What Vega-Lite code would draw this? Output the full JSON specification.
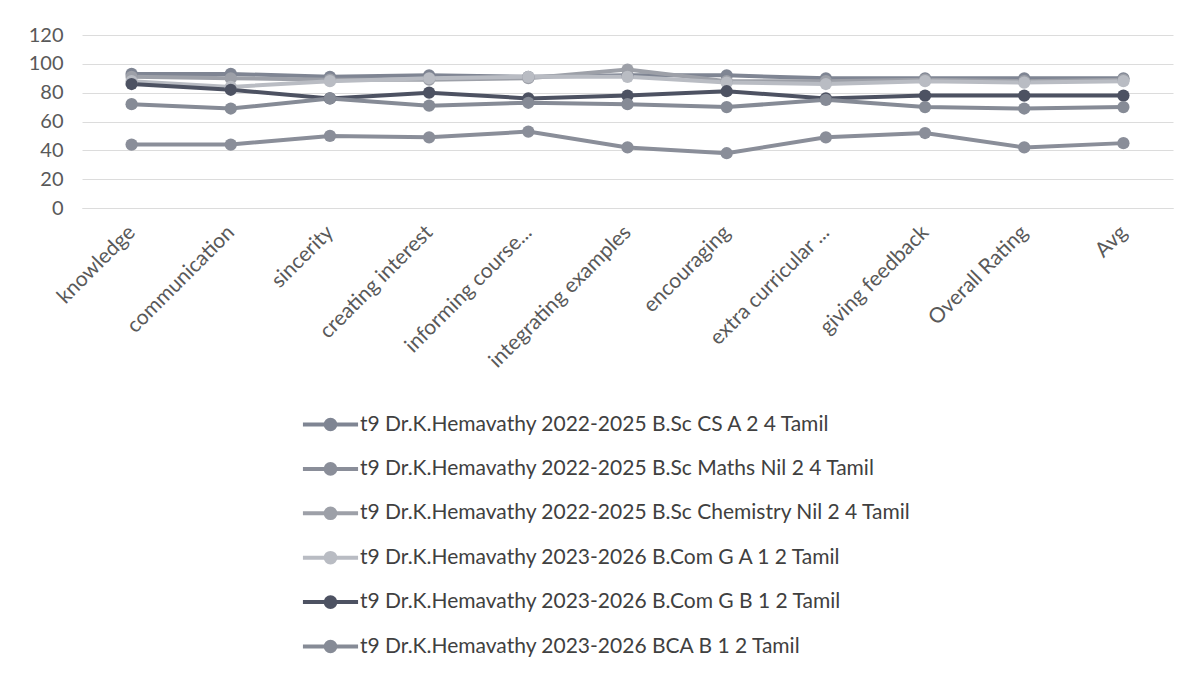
{
  "$schema": "https://vega.github.io/schema/vega-lite/v6.json",
  "autosize": {"type": "none"},
  "padding": {"left": 82, "top": 35, "right": 28, "bottom": 477},
  "width": 1091,
  "height": 173,
  "background": "white",
  "config": {
    "font": "Lato",
    "view": {"stroke": null},
    "axis": {"labelFont": "Lato", "labelColor": "#595959", "grid": true, "gridColor": "#dcdcdc", "gridWidth": 1, "domain": false, "ticks": false, "title": null}
  },
  "data": {"values": [
    {"series": "t9 Dr.K.Hemavathy 2022-2025 B.Sc CS A 2 4 Tamil", "category": "knowledge", "value": 93},
    {"series": "t9 Dr.K.Hemavathy 2022-2025 B.Sc CS A 2 4 Tamil", "category": "communication", "value": 93},
    {"series": "t9 Dr.K.Hemavathy 2022-2025 B.Sc CS A 2 4 Tamil", "category": "sincerity", "value": 91},
    {"series": "t9 Dr.K.Hemavathy 2022-2025 B.Sc CS A 2 4 Tamil", "category": "creating interest", "value": 92},
    {"series": "t9 Dr.K.Hemavathy 2022-2025 B.Sc CS A 2 4 Tamil", "category": "informing course...", "value": 91},
    {"series": "t9 Dr.K.Hemavathy 2022-2025 B.Sc CS A 2 4 Tamil", "category": "integrating examples", "value": 92},
    {"series": "t9 Dr.K.Hemavathy 2022-2025 B.Sc CS A 2 4 Tamil", "category": "encouraging", "value": 92},
    {"series": "t9 Dr.K.Hemavathy 2022-2025 B.Sc CS A 2 4 Tamil", "category": "extra curricular ...", "value": 90},
    {"series": "t9 Dr.K.Hemavathy 2022-2025 B.Sc CS A 2 4 Tamil", "category": "giving feedback", "value": 90},
    {"series": "t9 Dr.K.Hemavathy 2022-2025 B.Sc CS A 2 4 Tamil", "category": "Overall Rating", "value": 90},
    {"series": "t9 Dr.K.Hemavathy 2022-2025 B.Sc CS A 2 4 Tamil", "category": "Avg", "value": 90},

    {"series": "t9 Dr.K.Hemavathy 2022-2025 B.Sc Maths Nil 2 4 Tamil", "category": "knowledge", "value": 44},
    {"series": "t9 Dr.K.Hemavathy 2022-2025 B.Sc Maths Nil 2 4 Tamil", "category": "communication", "value": 44},
    {"series": "t9 Dr.K.Hemavathy 2022-2025 B.Sc Maths Nil 2 4 Tamil", "category": "sincerity", "value": 50},
    {"series": "t9 Dr.K.Hemavathy 2022-2025 B.Sc Maths Nil 2 4 Tamil", "category": "creating interest", "value": 49},
    {"series": "t9 Dr.K.Hemavathy 2022-2025 B.Sc Maths Nil 2 4 Tamil", "category": "informing course...", "value": 53},
    {"series": "t9 Dr.K.Hemavathy 2022-2025 B.Sc Maths Nil 2 4 Tamil", "category": "integrating examples", "value": 42},
    {"series": "t9 Dr.K.Hemavathy 2022-2025 B.Sc Maths Nil 2 4 Tamil", "category": "encouraging", "value": 38},
    {"series": "t9 Dr.K.Hemavathy 2022-2025 B.Sc Maths Nil 2 4 Tamil", "category": "extra curricular ...", "value": 49},
    {"series": "t9 Dr.K.Hemavathy 2022-2025 B.Sc Maths Nil 2 4 Tamil", "category": "giving feedback", "value": 52},
    {"series": "t9 Dr.K.Hemavathy 2022-2025 B.Sc Maths Nil 2 4 Tamil", "category": "Overall Rating", "value": 42},
    {"series": "t9 Dr.K.Hemavathy 2022-2025 B.Sc Maths Nil 2 4 Tamil", "category": "Avg", "value": 45},

    {"series": "t9 Dr.K.Hemavathy 2022-2025 B.Sc Chemistry Nil 2 4 Tamil", "category": "knowledge", "value": 91},
    {"series": "t9 Dr.K.Hemavathy 2022-2025 B.Sc Chemistry Nil 2 4 Tamil", "category": "communication", "value": 90},
    {"series": "t9 Dr.K.Hemavathy 2022-2025 B.Sc Chemistry Nil 2 4 Tamil", "category": "sincerity", "value": 89},
    {"series": "t9 Dr.K.Hemavathy 2022-2025 B.Sc Chemistry Nil 2 4 Tamil", "category": "creating interest", "value": 89},
    {"series": "t9 Dr.K.Hemavathy 2022-2025 B.Sc Chemistry Nil 2 4 Tamil", "category": "informing course...", "value": 90},
    {"series": "t9 Dr.K.Hemavathy 2022-2025 B.Sc Chemistry Nil 2 4 Tamil", "category": "integrating examples", "value": 96},
    {"series": "t9 Dr.K.Hemavathy 2022-2025 B.Sc Chemistry Nil 2 4 Tamil", "category": "encouraging", "value": 88},
    {"series": "t9 Dr.K.Hemavathy 2022-2025 B.Sc Chemistry Nil 2 4 Tamil", "category": "extra curricular ...", "value": 88},
    {"series": "t9 Dr.K.Hemavathy 2022-2025 B.Sc Chemistry Nil 2 4 Tamil", "category": "giving feedback", "value": 89},
    {"series": "t9 Dr.K.Hemavathy 2022-2025 B.Sc Chemistry Nil 2 4 Tamil", "category": "Overall Rating", "value": 88},
    {"series": "t9 Dr.K.Hemavathy 2022-2025 B.Sc Chemistry Nil 2 4 Tamil", "category": "Avg", "value": 89},

    {"series": "t9 Dr.K.Hemavathy 2023-2026 B.Com G A 1 2 Tamil", "category": "knowledge", "value": 88},
    {"series": "t9 Dr.K.Hemavathy 2023-2026 B.Com G A 1 2 Tamil", "category": "communication", "value": 84},
    {"series": "t9 Dr.K.Hemavathy 2023-2026 B.Com G A 1 2 Tamil", "category": "sincerity", "value": 88},
    {"series": "t9 Dr.K.Hemavathy 2023-2026 B.Com G A 1 2 Tamil", "category": "creating interest", "value": 90},
    {"series": "t9 Dr.K.Hemavathy 2023-2026 B.Com G A 1 2 Tamil", "category": "informing course...", "value": 91},
    {"series": "t9 Dr.K.Hemavathy 2023-2026 B.Com G A 1 2 Tamil", "category": "integrating examples", "value": 91},
    {"series": "t9 Dr.K.Hemavathy 2023-2026 B.Com G A 1 2 Tamil", "category": "encouraging", "value": 87},
    {"series": "t9 Dr.K.Hemavathy 2023-2026 B.Com G A 1 2 Tamil", "category": "extra curricular ...", "value": 86},
    {"series": "t9 Dr.K.Hemavathy 2023-2026 B.Com G A 1 2 Tamil", "category": "giving feedback", "value": 88},
    {"series": "t9 Dr.K.Hemavathy 2023-2026 B.Com G A 1 2 Tamil", "category": "Overall Rating", "value": 87},
    {"series": "t9 Dr.K.Hemavathy 2023-2026 B.Com G A 1 2 Tamil", "category": "Avg", "value": 88},

    {"series": "t9 Dr.K.Hemavathy 2023-2026 B.Com G B 1 2 Tamil", "category": "knowledge", "value": 86},
    {"series": "t9 Dr.K.Hemavathy 2023-2026 B.Com G B 1 2 Tamil", "category": "communication", "value": 82},
    {"series": "t9 Dr.K.Hemavathy 2023-2026 B.Com G B 1 2 Tamil", "category": "sincerity", "value": 76},
    {"series": "t9 Dr.K.Hemavathy 2023-2026 B.Com G B 1 2 Tamil", "category": "creating interest", "value": 80},
    {"series": "t9 Dr.K.Hemavathy 2023-2026 B.Com G B 1 2 Tamil", "category": "informing course...", "value": 76},
    {"series": "t9 Dr.K.Hemavathy 2023-2026 B.Com G B 1 2 Tamil", "category": "integrating examples", "value": 78},
    {"series": "t9 Dr.K.Hemavathy 2023-2026 B.Com G B 1 2 Tamil", "category": "encouraging", "value": 81},
    {"series": "t9 Dr.K.Hemavathy 2023-2026 B.Com G B 1 2 Tamil", "category": "extra curricular ...", "value": 76},
    {"series": "t9 Dr.K.Hemavathy 2023-2026 B.Com G B 1 2 Tamil", "category": "giving feedback", "value": 78},
    {"series": "t9 Dr.K.Hemavathy 2023-2026 B.Com G B 1 2 Tamil", "category": "Overall Rating", "value": 78},
    {"series": "t9 Dr.K.Hemavathy 2023-2026 B.Com G B 1 2 Tamil", "category": "Avg", "value": 78},

    {"series": "t9 Dr.K.Hemavathy 2023-2026 BCA B 1 2 Tamil", "category": "knowledge", "value": 72},
    {"series": "t9 Dr.K.Hemavathy 2023-2026 BCA B 1 2 Tamil", "category": "communication", "value": 69},
    {"series": "t9 Dr.K.Hemavathy 2023-2026 BCA B 1 2 Tamil", "category": "sincerity", "value": 76},
    {"series": "t9 Dr.K.Hemavathy 2023-2026 BCA B 1 2 Tamil", "category": "creating interest", "value": 71},
    {"series": "t9 Dr.K.Hemavathy 2023-2026 BCA B 1 2 Tamil", "category": "informing course...", "value": 73},
    {"series": "t9 Dr.K.Hemavathy 2023-2026 BCA B 1 2 Tamil", "category": "integrating examples", "value": 72},
    {"series": "t9 Dr.K.Hemavathy 2023-2026 BCA B 1 2 Tamil", "category": "encouraging", "value": 70},
    {"series": "t9 Dr.K.Hemavathy 2023-2026 BCA B 1 2 Tamil", "category": "extra curricular ...", "value": 75},
    {"series": "t9 Dr.K.Hemavathy 2023-2026 BCA B 1 2 Tamil", "category": "giving feedback", "value": 70},
    {"series": "t9 Dr.K.Hemavathy 2023-2026 BCA B 1 2 Tamil", "category": "Overall Rating", "value": 69},
    {"series": "t9 Dr.K.Hemavathy 2023-2026 BCA B 1 2 Tamil", "category": "Avg", "value": 70}
  ]},
  "mark": {"type": "line", "strokeWidth": 4, "point": {"filled": true, "size": 150}},
  "encoding": {
    "x": {
      "field": "category", "type": "nominal", "sort": null,
      "scale": {"type": "point", "padding": 0.5},
      "axis": {"labelAngle": -45, "labelAlign": "right", "labelBaseline": "middle", "labelPadding": 21, "labelFontSize": 21, "labelLimit": 0, "grid": false, "domain": true, "domainColor": "#dcdcdc"}
    },
    "y": {
      "field": "value", "type": "quantitative",
      "scale": {"domain": [0, 120], "nice": false},
      "axis": {"values": [0, 20, 40, 60, 80, 100, 120], "labelFontSize": 20, "labelPadding": 19}
    },
    "color": {
      "field": "series", "type": "nominal", "sort": null,
      "scale": {
        "domain": [
          "t9 Dr.K.Hemavathy 2022-2025 B.Sc CS A 2 4 Tamil",
          "t9 Dr.K.Hemavathy 2022-2025 B.Sc Maths Nil 2 4 Tamil",
          "t9 Dr.K.Hemavathy 2022-2025 B.Sc Chemistry Nil 2 4 Tamil",
          "t9 Dr.K.Hemavathy 2023-2026 B.Com G A 1 2 Tamil",
          "t9 Dr.K.Hemavathy 2023-2026 B.Com G B 1 2 Tamil",
          "t9 Dr.K.Hemavathy 2023-2026 BCA B 1 2 Tamil"
        ],
        "range": ["#7f8593", "#8a8e99", "#9da0a8", "#b9bcc3", "#4d5262", "#868b96"]
      },
      "legend": {
        "title": null, "orient": "none", "legendX": 238, "legendY": 379, "direction": "vertical",
        "symbolType": "M-4,0L4,0M0.7,0A0.7,0.7,0,1,1,-0.7,0A0.7,0.7,0,1,1,0.7,0",
        "symbolSize": 190, "symbolStrokeWidth": 4, "labelOffset": 19,
        "labelFontSize": 21, "labelColor": "#404040", "labelLimit": 0, "rowPadding": 17.4,
        "encode": {"symbols": {"update": {"fill": {"scale": "color", "field": "value"}, "stroke": {"scale": "color", "field": "value"}, "fillOpacity": {"value": 1}}}}
      }
    }
  }
}
